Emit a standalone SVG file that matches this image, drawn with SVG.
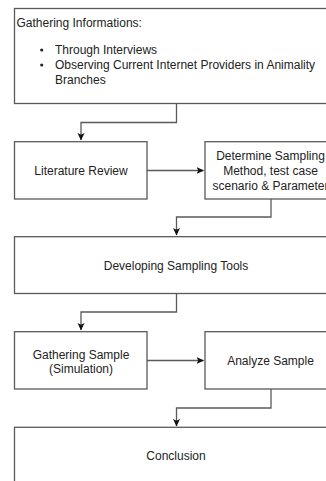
<svg xmlns="http://www.w3.org/2000/svg" width="326" height="481" viewBox="0 0 326 481">
<defs>
<marker id="arr" markerWidth="8" markerHeight="8" refX="7" refY="4" orient="auto" markerUnits="userSpaceOnUse">
<path d="M0,0.5 L7.5,4 L0,7.5 L1.8,4 Z" fill="#111"/>
</marker>
</defs>
<style>
.box{fill:#fff;stroke:#5a5a5a;stroke-width:1.3}
.t{font-family:"Liberation Sans",Arial,sans-serif;font-size:12px;fill:#222}
.c{text-anchor:middle}
.ln{fill:none;stroke:#5a5a5a;stroke-width:1.3}
</style>
<rect width="326" height="481" fill="#fff"/>
<g id="connectors">
<path class="ln" d="M176.5,103.5 V122.5 H81 V140" marker-end="url(#arr)"/>
<path class="ln" d="M147,170.5 H203.5" marker-end="url(#arr)"/>
<path class="ln" d="M271,199 V217 H176.5 V235" marker-end="url(#arr)"/>
<path class="ln" d="M176.5,293.5 V312 H81 V330" marker-end="url(#arr)"/>
<path class="ln" d="M147,360.5 H203.5" marker-end="url(#arr)"/>
<path class="ln" d="M271,389 V408 H176.5 V426" marker-end="url(#arr)"/>
</g>
<g id="gathering-info">
<rect class="box" x="14.5" y="8.5" width="330" height="95"/>
<text class="t" x="16.5" y="27">Gathering Informations:</text>
<circle cx="41.7" cy="50" r="1.6" fill="#222"/>
<text class="t" x="55" y="54">Through Interviews</text>
<circle cx="41.7" cy="65" r="1.6" fill="#222"/>
<text class="t" x="55" y="69">Observing Current Internet Providers in Animality</text>
<text class="t" x="55" y="84">Branches</text>
</g>
<g id="literature-review">
<rect class="box" x="14.5" y="141.7" width="132.5" height="57.3"/>
<text class="t c" x="81" y="175">Literature Review</text>
</g>
<g id="determine-sampling">
<rect class="box" x="205" y="141.7" width="131" height="57.3"/>
<text class="t c" x="270.5" y="159.5">Determine Sampling</text>
<text class="t c" x="270.5" y="174.5">Method, test case</text>
<text class="t c" x="270.5" y="189.5">scenario &amp; Parameter</text>
</g>
<g id="developing-tools">
<rect class="box" x="14.5" y="236.7" width="323" height="56.8"/>
<text class="t c" x="176" y="270">Developing Sampling Tools</text>
</g>
<g id="gathering-sample">
<rect class="box" x="14.5" y="331.7" width="132.5" height="57.3"/>
<text class="t c" x="81" y="358.5">Gathering Sample</text>
<text class="t c" x="81" y="373">(Simulation)</text>
</g>
<g id="analyze-sample">
<rect class="box" x="205" y="331.7" width="131" height="57.3"/>
<text class="t c" x="270.5" y="365">Analyze Sample</text>
</g>
<g id="conclusion">
<rect class="box" x="14.5" y="427.3" width="323" height="70"/>
<text class="t c" x="176" y="459.5">Conclusion</text>
</g>
</svg>
